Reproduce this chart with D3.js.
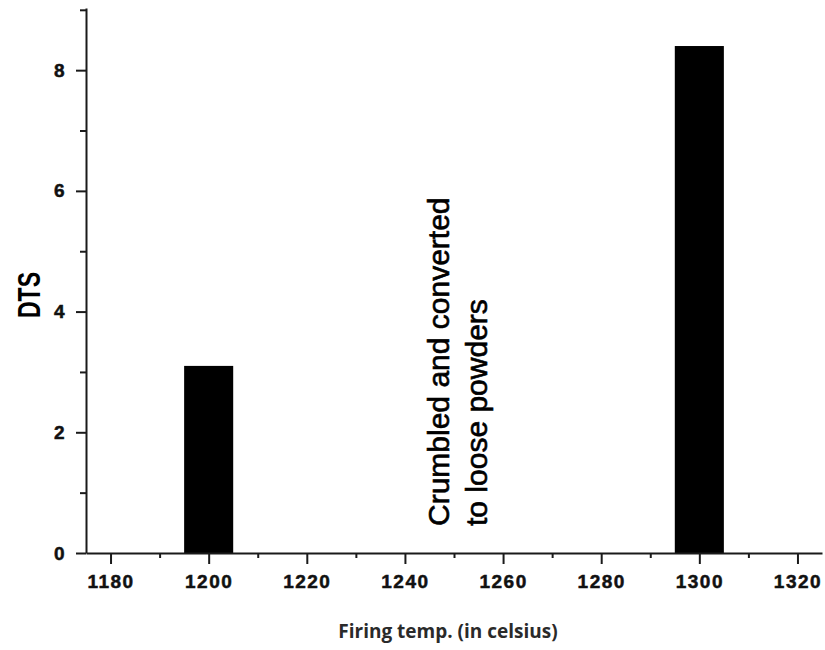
<!DOCTYPE html>
<html>
<head>
<meta charset="utf-8">
<script src="https://cdn.jsdelivr.net/npm/d3@7"></script>
<style>
  body { margin: 0; background: #fff; }
  svg { display: block; }
  .axis path, .axis line { stroke: #1a1a1a; stroke-width: 2px; }
  .axis text { font-family: "Liberation Sans", Arial, sans-serif; font-weight: bold; font-size: 19px; fill: #111; stroke: #111; stroke-width: 0.5px; letter-spacing: 1.5px; }
</style>
</head>
<body>
<div id="chart"></div>
<script>
// values
const temps = [1200, 1300];
const dts = [3.1, 8.4];
const binWidth = 10;
const xTicks = [1180, 1200, 1220, 1240, 1260, 1280, 1300, 1320];
const xMinor = [1190, 1210, 1230, 1250, 1270, 1290, 1310];
const yTicks = [0, 2, 4, 6, 8];
const yMinor = [1, 3, 5, 7, 9];
const noteLines = ["Crumbled and converted", "to loose powders"];

var width = 825, height = 650;
var margin = {top: 8, right: 3, bottom: 97, left: 86};

var svg = d3.select("#chart").append("svg")
  .attr("width", width)
  .attr("height", height);

var x = d3.scaleLinear()
  .domain([1175, 1325])
  .range([margin.left, width - margin.right]);

var y = d3.scaleLinear()
  .domain([0, 9.03])
  .range([height - margin.bottom, margin.top]);

var data = temps.map((t, i) => ({t: t, v: dts[i]}));

svg.selectAll("rect.bar")
  .data(data)
  .enter()
  .append("rect")
  .attr("class", "bar")
  .attr("x", d => x(d.t - binWidth / 2))
  .attr("width", d => x(d.t + binWidth / 2) - x(d.t - binWidth / 2))
  .attr("y", d => y(d.v))
  .attr("height", d => y(0) - y(d.v))
  .style("fill", "#000");

// minor ticks first, main axes on top
svg.append("g")
  .attr("class", "axis")
  .attr("transform", `translate(0, ${y(0)})`)
  .call(d3.axisBottom(x).tickValues(xMinor).tickSize(5).tickFormat(""))
  .select(".domain").remove();

svg.append("g")
  .attr("class", "axis")
  .attr("transform", `translate(${x.range()[0]}, 0)`)
  .call(d3.axisLeft(y).tickValues(yMinor).tickSize(6).tickFormat(""))
  .select(".domain").remove();

svg.append("g")
  .attr("class", "axis xAxis")
  .attr("transform", `translate(0, ${y(0)})`)
  .call(d3.axisBottom(x).tickValues(xTicks).tickSize(11).tickSizeOuter(0).tickPadding(10.5).tickFormat(d3.format("d")));

svg.append("g")
  .attr("class", "axis yAxis")
  .attr("transform", `translate(${x.range()[0]}, 0)`)
  .call(d3.axisLeft(y).tickValues(yTicks).tickSize(10).tickSizeOuter(0).tickPadding(10).tickFormat(d3.format("d")));

// y title, glyphs stretched like the original
svg.append("text")
  .attr("transform", "translate(40, 295) rotate(-90) scale(1, 1.4)")
  .style("text-anchor", "middle")
  .style("font-family", "Liberation Sans, Arial, sans-serif")
  .style("font-weight", "bold")
  .style("font-size", "23px")
  .style("fill", "#000")
  .text("DTS");

// x title
svg.append("text")
  .attr("x", 448)
  .attr("y", 638)
  .style("text-anchor", "middle")
  .style("font-family", "Open Sans, sans-serif")
  .style("font-weight", 700)
  .style("font-size", "19px")
  .style("fill", "#2a2a2a")
  .text("Firing temp. (in celsius)");

// note in the gap
var note = svg.append("g")
  .attr("transform", `translate(${x(1248.9)}, ${y(0) - 27}) rotate(-90)`);

note.selectAll("text")
  .data(noteLines)
  .enter()
  .append("text")
  .attr("x", 0)
  .attr("y", (d, i) => i * 38)
  .style("font-family", "Liberation Sans, Arial, sans-serif")
  .style("font-size", "30px")
  .style("fill", "#000")
  .style("stroke", "#000")
  .style("stroke-width", "0.6px")
  .text(d => d);
</script>
</body>
</html>
